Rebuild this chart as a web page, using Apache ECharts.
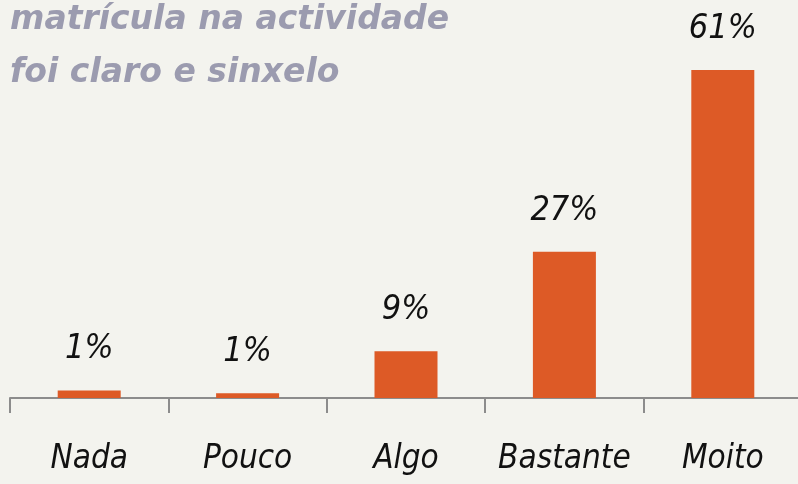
<!DOCTYPE html>
<html>
<head>
<meta charset="utf-8">
<script src="https://cdn.jsdelivr.net/npm/echarts@6/dist/echarts.min.js"></script>
<style>
  html, body { margin: 0; padding: 0; background: #F3F3EE; }
  #chart { width: 798px; height: 484px; }
</style>
</head>
<body>
<div id="chart"></div>
<script>
// Survey answers: "the enrolment process was clear and simple"
const categories = ['Nada', 'Pouco', 'Algo', 'Bastante', 'Moito'];
const shares = [1.4, 0.9, 8.7, 27.2, 61];
const titleLines = ['matrícula na actividade', 'foi claro e sinxelo'];

const handFont = "'Liberation Sans Narrow', 'DejaVu Sans Condensed', 'Liberation Sans', sans-serif";

const chart = echarts.init(document.getElementById('chart'), null, { renderer: 'canvas' });
chart.setOption({
  backgroundColor: '#F3F3EE',
  animation: false,
  title: {
    text: titleLines.join('\n'),
    left: 10,
    top: -6,
    padding: 0,
    textStyle: {
      color: '#9B9BAF',
      fontFamily: "'DejaVu Sans', sans-serif",
      fontStyle: 'italic',
      fontWeight: 'bold',
      fontSize: 33,
      lineHeight: 53
    }
  },
  // plot area runs slightly past the right edge of the canvas
  grid: { left: 10, width: 792, top: 0, bottom: 86, containLabel: false, outerBoundsMode: 'none' },
  xAxis: {
    type: 'category',
    data: categories,
    axisLine: { show: true, lineStyle: { color: '#8C8C8C', width: 2 } },
    axisTick: { show: true, interval: 0, length: 15, lineStyle: { color: '#8C8C8C', width: 2 } },
    axisLabel: {
      interval: 0,
      hideOverlap: false,
      margin: 45,
      color: '#111',
      fontFamily: handFont,
      fontStyle: 'italic',
      fontSize: 33
    }
  },
  yAxis: { type: 'value', min: 0, max: 74, show: false, splitLine: { show: false } },
  series: [{
    type: 'bar',
    data: shares,
    barWidth: 63,
    itemStyle: { color: '#DD5A26' },
    label: {
      show: true,
      position: 'top',
      distance: 24,
      color: '#111',
      fontFamily: handFont,
      fontStyle: 'italic',
      fontSize: 34,
      formatter: p => Math.round(p.value) + '%'
    }
  }]
});
</script>
</body>
</html>
